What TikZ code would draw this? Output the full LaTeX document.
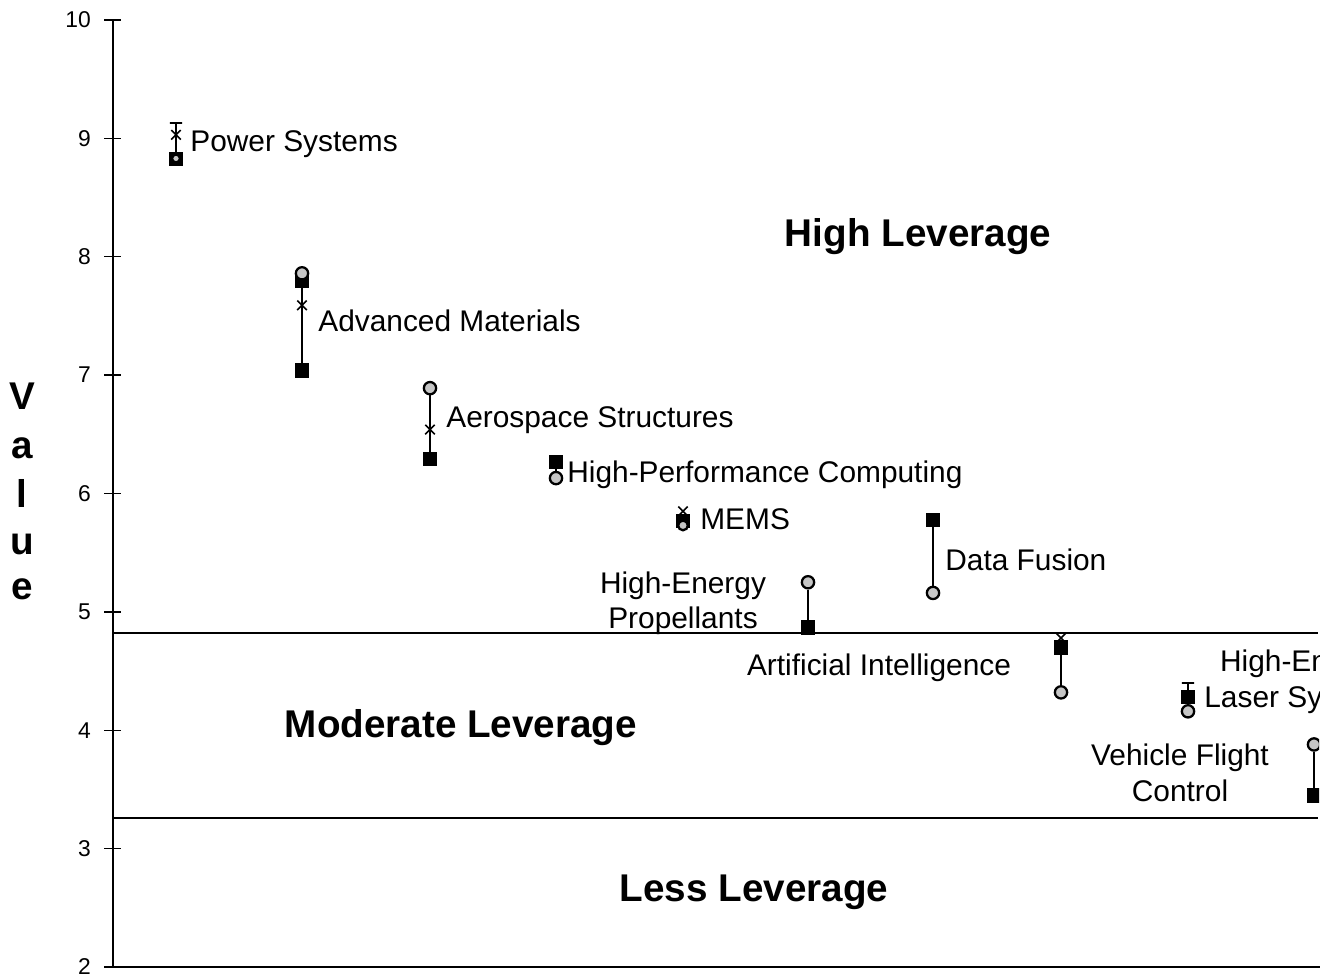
\documentclass[tikz,border=0pt]{standalone}
\usepackage{fontspec}
\setmainfont{Liberation Sans}
\usetikzlibrary{shapes.misc}

\begin{document}
\begin{tikzpicture}[x=0.02cm,y=2.368cm,
    sq/.style={draw,fill=black,rectangle,minimum size=7.5pt,inner sep=0pt},
    ring/.style={draw,fill=gray!45,circle,line width=1.3pt,minimum size=7pt,inner sep=0pt},
    xm/.style={draw,cross out,minimum size=4.5pt,inner sep=0pt,line width=0.9pt},
    bar/.style={draw,minimum width=7pt,minimum height=0pt,inner sep=0pt,line width=0.9pt},
    rng/.style={line width=1.3pt},
    lbl/.style={font=\fontsize{17}{20}\selectfont,inner sep=0pt},
    zone/.style={font=\fontsize{22}{26}\selectfont\bfseries,inner sep=0pt}]
  \useasboundingbox (0,1.90) rectangle (1332,10.169);
  % axes and ticks
  \coordinate (o) at (113,2);
  \coordinate (ytop) at (113,10);
  \coordinate (xend) at (1320,2);
  \draw[line width=1.2pt] (ytop) -- (o) -- (xend);
  \foreach \k in {2,...,10}{
    \draw[line width=0.8pt] (104,\k) -- (121,\k);
    \node[anchor=east,font=\fontsize{13}{15}\selectfont] (t\k) at (97,\k) {\k};
  }
  \foreach \c/\y [count=\i] in {V/6.82,a/6.38,l/6.0,u/5.57,e/5.19}
    \node[zone] (val\i) at (22,\y) {\c};
  % leverage bands
  \draw[line width=1.1pt] (113,4.82) -- (1318,4.82);
  \draw[line width=1.1pt] (113,3.26) -- (1318,3.26);
  \node[zone] (high) at (918,8.17) {High Leverage};
  \node[zone] (mod) at (461,4.02) {Moderate Leverage};
  \node[zone] (less) at (754,2.63) {Less Leverage};

  % Power Systems
  \node[bar] (ps1) at (176,9.13) {};
  \node[xm] (ps2) at (176,9.03) {};
  \node[sq] (ps3) at (176,8.83) {};
  \node[ring,minimum size=4.5pt] at (176,8.83) {};
  \draw[rng] (ps1) -- (ps3);
  \node[lbl,anchor=west] (psl) at (190,8.95) {Power Systems};

  % Advanced Materials
  \node[sq] (am0) at (302,7.80) {};
  \node[ring] (am1) at (302,7.86) {};
  \node[xm] (am2) at (302,7.59) {};
  \node[sq] (am3) at (302,7.04) {};
  \draw[rng] (am0) -- (am3);
  \node[lbl,anchor=west] (aml) at (318,7.46) {Advanced Materials};

  % Aerospace Structures
  \node[ring] (as1) at (430,6.89) {};
  \node[xm] (as2) at (430,6.54) {};
  \node[sq] (as3) at (430,6.29) {};
  \draw[rng] (as1) -- (as3);
  \node[lbl,anchor=west] (asl) at (446,6.62) {Aerospace Structures};

  % High-Performance Computing
  \node[sq] (hp1) at (556,6.27) {};
  \node[ring] (hp2) at (556,6.13) {};
  \draw[rng] (hp1) -- (hp2);
  \node[lbl,anchor=west] (hpl) at (567,6.16) {High-Performance Computing};

  % MEMS
  \node[xm] (me1) at (683,5.85) {};
  \node[sq] (me2) at (683,5.77) {};
  \node[ring,minimum size=5.5pt] (me3) at (683,5.73) {};
  \node[lbl,anchor=west] (mel) at (700,5.78) {MEMS};

  % High-Energy Propellants
  \node[ring] (he1) at (808,5.25) {};
  \node[sq] (he2) at (808,4.87) {};
  \draw[rng] (he1) -- (he2);
  \node[lbl,align=center] (hel) at (683,5.07) {High-Energy\\Propellants};

  % Data Fusion
  \node[sq] (df1) at (933,5.78) {};
  \node[ring] (df2) at (933,5.16) {};
  \draw[rng] (df1) -- (df2);
  \node[lbl,anchor=west] (dfl) at (945,5.44) {Data Fusion};

  % Artificial Intelligence
  \node[xm] (ai1) at (1061,4.78) {};
  \node[sq] (ai2) at (1061,4.70) {};
  \node[ring] (ai3) at (1061,4.32) {};
  \draw[rng] (ai2) -- (ai3);
  \node[lbl] (ail) at (879,4.53) {Artificial Intelligence};

  \begin{scope}
    \clip (0,1.9) rectangle (1319,10.169);
    % High-Energy Laser Systems
    \node[bar] (hl1) at (1188,4.40) {};
    \node[sq] (hl2) at (1188,4.28) {};
    \node[ring] (hl3) at (1188,4.16) {};
    \draw[rng] (hl1) -- (hl2);
    \node[lbl,align=center,anchor=west] (hll) at (1204,4.41) {High-Energy\\Laser Systems};
    % Vehicle Flight Control
    \node[ring] (vf1) at (1314,3.88) {};
    \node[sq] (vf2) at (1314,3.45) {};
    \draw[rng] (vf1) -- (vf2);
  \end{scope}
  \node[lbl,align=center] (vfl) at (1180,3.64) {Vehicle Flight\\Control};
\end{tikzpicture}
\end{document}
